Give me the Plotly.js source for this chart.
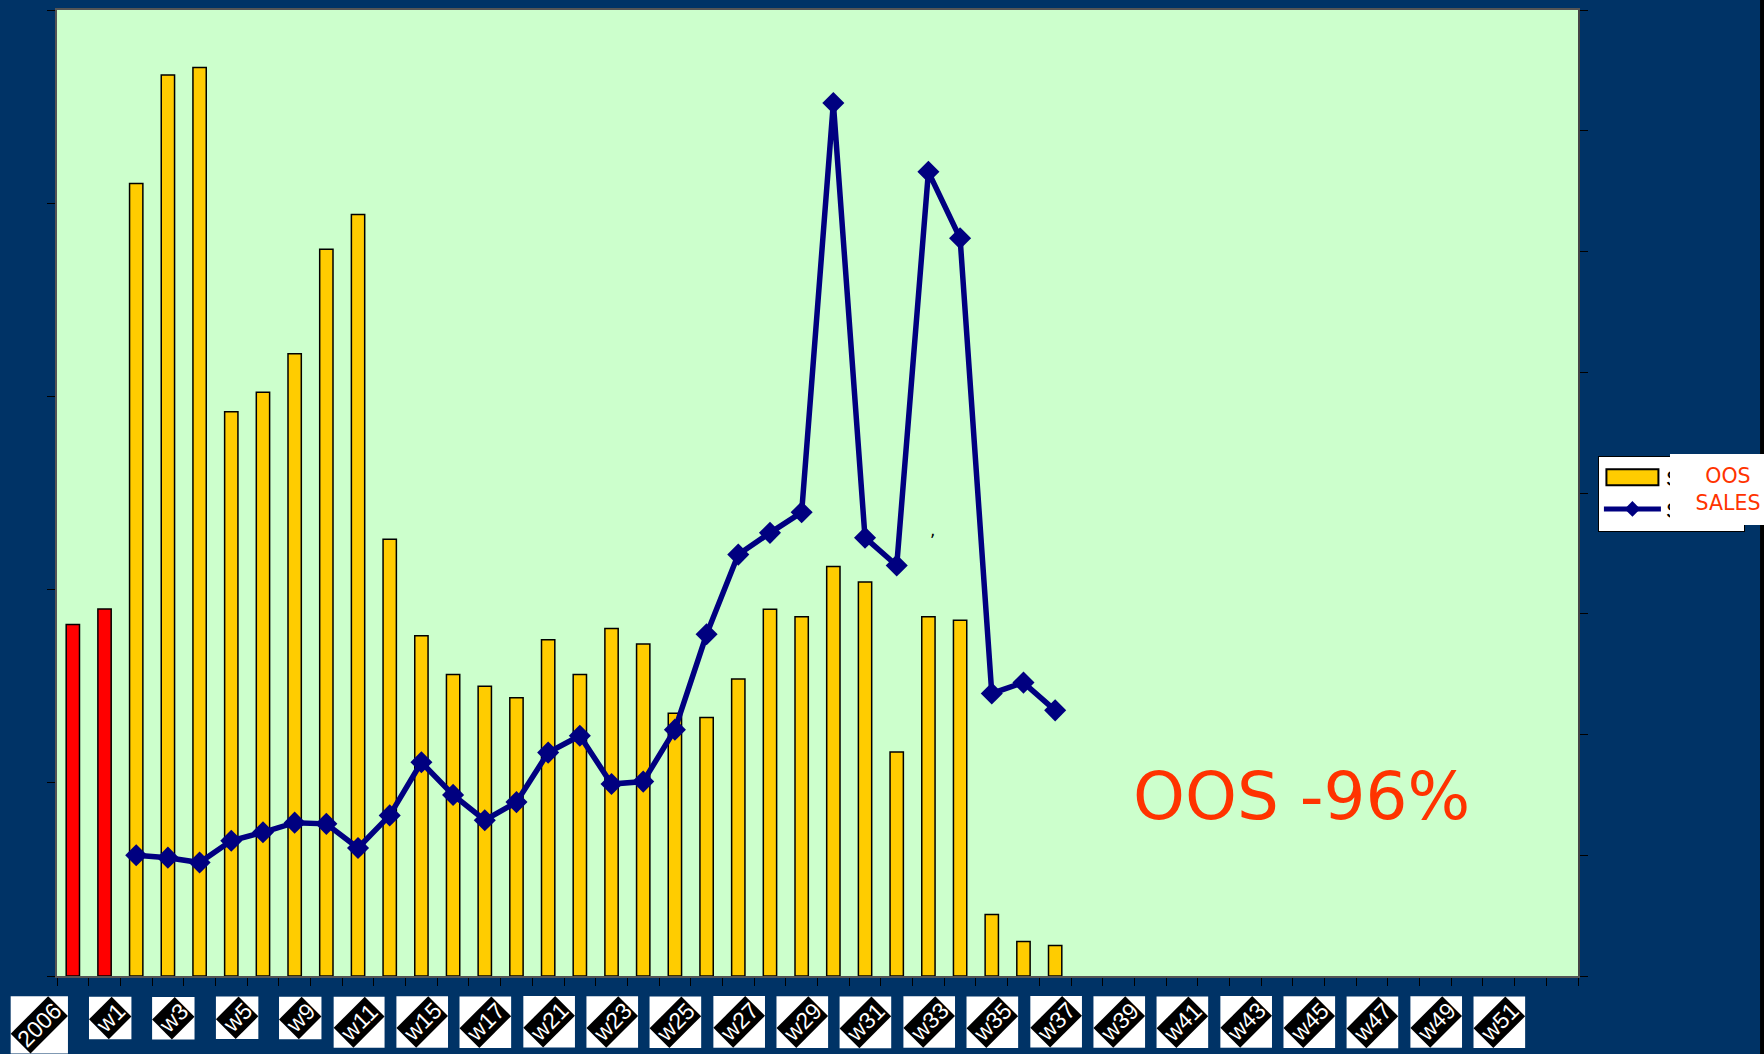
<!DOCTYPE html>
<html>
<head>
<meta charset="utf-8">
<script src="https://cdn.plot.ly/plotly-3.0.1.min.js"></script>
<style>html,body{margin:0;padding:0;background:#003366;}#chart{width:1764px;height:1054px;}</style>
</head>
<body>
<div id="chart"></div>
<script>
// ---- data ----
var categories = ["2006","2006 avg","w1","w2","w3","w4","w5","w6","w9","w10","w11","w12","w15","w16","w17","w18",
  "w21","w22","w23","w24","w25","w26","w27","w28","w29","w30","w31","w32","w33","w34","w35","w36",
  "w37","w38","w39","w40","w41","w42","w43","w44","w45","w46","w47","w48","w49","w50","w51","w52"];
var oosValues = [1819,1900,4102,4663,4703,2920,3021,3221,3762,3942,2261,1761,1560,1500,1440,1741,
  1560,1799,1719,1360,1338,1537,1898,1859,2119,2039,1160,1859,1841,318,179,158];
var salesValues = [1000,980,940,1120,1190,1270,1260,1060,1330,1770,1500,1290,1440,1850,1990,1590,
  1610,2040,2830,3490,3670,3840,7230,3630,3400,6660,6110,2340,2430,2200];
var salesStart = 2;          // sales series starts at the first weekly category
var referenceBars = 2;       // 2006 reference bars drawn in red
var tickLabels = categories.filter(function(c, i){ return i % 2 === 0; });
var headline = "OOS -96%";
var legendNote = "OOS<br>SALES";

// ---- traces ----
var salesX = categories.slice(salesStart, salesStart + salesValues.length);
var barStyle = {line: {color: "#000000", width: 1.5}};

var traces = [
  {type: "bar", name: "Stocks ", x: categories.slice(referenceBars, oosValues.length),
   y: oosValues.slice(referenceBars), width: 0.42,
   marker: Object.assign({color: "#FFCC00"}, barStyle)},
  {type: "bar", name: "2006", showlegend: false, x: categories.slice(0, referenceBars),
   y: oosValues.slice(0, referenceBars), width: 0.42,
   marker: Object.assign({color: "#FF0000"}, barStyle)},
  {type: "scatter", mode: "lines+markers", name: "Sales", x: salesX, y: salesValues, yaxis: "y2",
   line: {color: "#000080", width: 5.5},
   marker: {symbol: "diamond", size: 17, color: "#000080"}, cliponaxis: false}
];

// ---- tick label annotations (white text on black, rotated) ----
var annotations = [];
categories.forEach(function(c, i){
  if (i % 2 !== 0) return;
  annotations.push({
    xref: "x", yref: "paper", x: i, y: 0, xanchor: "right", yanchor: "top",
    xshift: -5, yshift: -20.5, showarrow: false, text: c, textangle: -45,
    font: {family: "Liberation Sans, Arial, sans-serif", size: 23, color: "#FFFFFF"},
    bgcolor: "#000000", borderpad: 1, borderwidth: 0
  });
});
var nTickAnn = annotations.length;

annotations.push({
  xref: "paper", yref: "paper", x: 0.8179, y: 0.1858, xanchor: "center", yanchor: "middle",
  showarrow: false, text: headline,
  font: {family: "DejaVu Sans, sans-serif", size: 66, color: "#FF3300"}
});
annotations.push({
  xref: "paper", yref: "paper", x: 0.5753, y: 0.462, xanchor: "center", yanchor: "middle",
  showarrow: false, text: ",",
  font: {family: "DejaVu Sans, sans-serif", size: 17, color: "#000000"}
});
annotations.push({
  xref: "paper", yref: "paper", x: 1.0605, y: 0.5399, xanchor: "left", yanchor: "top",
  showarrow: false, text: legendNote, width: 116, height: 71, align: "center", valign: "middle",
  bgcolor: "#FFFFFF", borderpad: 0, borderwidth: 0,
  font: {family: "DejaVu Sans, sans-serif", size: 20.5, color: "#FF3300"}
});

var baseShapes = [
  {type: "rect", xref: "paper", yref: "paper", x0: 1.1197, x1: 1.13, y0: -0.09, y1: 1.02,
   fillcolor: "#000000", line: {width: 0}, layer: "above"}
];

var layout = {
  width: 1764, height: 1054,
  margin: {l: 57, r: 186, t: 10, b: 78, autoexpand: false},
  paper_bgcolor: "#003366", plot_bgcolor: "#CCFFCC",
  showlegend: true,
  barmode: "overlay",
  legend: {x: 1.0131, xanchor: "left", y: 0.5388, yanchor: "top",
    bgcolor: "#FFFFFF", bordercolor: "#000000", borderwidth: 1,
    itemsizing: "constant", itemwidth: 57, tracegroupgap: 4, traceorder: "normal",
    font: {family: "Liberation Sans, Arial, sans-serif", size: 22, color: "#000000"}},
  bargap: 0,
  xaxis: {type: "category", categoryorder: "array", categoryarray: categories,
    range: [-0.5, categories.length - 0.5], showticklabels: false,
    ticks: "outside", tickson: "boundaries", ticklen: 8, tickcolor: "#000000", tickwidth: 1,
    showline: true, linecolor: "#555555", linewidth: 2, mirror: true,
    showgrid: false, zeroline: false, fixedrange: true},
  yaxis: {range: [0, 5000], dtick: 1000, tick0: 0, showticklabels: false,
    ticks: "outside", ticklen: 8, tickcolor: "#000000", tickwidth: 1,
    showline: true, linecolor: "#555555", linewidth: 2, mirror: true,
    showgrid: false, zeroline: false, fixedrange: true},
  yaxis2: {overlaying: "y", side: "right", range: [0, 8000], dtick: 1000, tick0: 0,
    showticklabels: false, ticks: "outside", ticklen: 8, tickcolor: "#000000", tickwidth: 1,
    showline: true, linecolor: "#444444", linewidth: 2,
    showgrid: false, zeroline: false, fixedrange: true},
  annotations: annotations,
  shapes: baseShapes,
  font: {family: "Liberation Sans, Arial, sans-serif"}
};

function widenLegendBar(){
  // Excel-style wide legend swatch for the bar series
  gd.querySelectorAll(".legend g.legendpoints path").forEach(function(p){
    var d = p.getAttribute("d") || "";
    if (/^M6,6H-6V-6H6Z$/.test(d.replace(/\s/g, ""))) p.setAttribute("d", "M26,8H-26V-8H26Z");
  });
}

var gd = document.getElementById("chart");
Plotly.newPlot(gd, traces, layout, {displayModeBar: false, staticPlot: true}).then(function(){
  // white boxes behind the rotated tick labels, sized from their rendered extent
  var fl = gd._fullLayout, s = fl._size;
  var root = gd.getBoundingClientRect();
  var shapes = baseShapes.slice();
  gd.querySelectorAll("g.annotation").forEach(function(g){
    var idx = +g.getAttribute("data-index");
    if (!(idx < nTickAnn)) return;
    var bg = g.querySelector("rect.bg");
    if (!bg) return;
    var r = bg.getBoundingClientRect();
    shapes.push({type: "rect", xref: "paper", yref: "paper",
      x0: (r.left - root.left - s.l) / s.w, x1: (r.right - root.left - s.l) / s.w,
      y0: 1 - (r.bottom - root.top - s.t) / s.h, y1: 1 - (r.top - root.top - s.t) / s.h,
      fillcolor: "#FFFFFF", line: {width: 0}, layer: "above"});
  });
  return Plotly.relayout(gd, {shapes: shapes});
}).then(widenLegendBar);
</script>
</body>
</html>
